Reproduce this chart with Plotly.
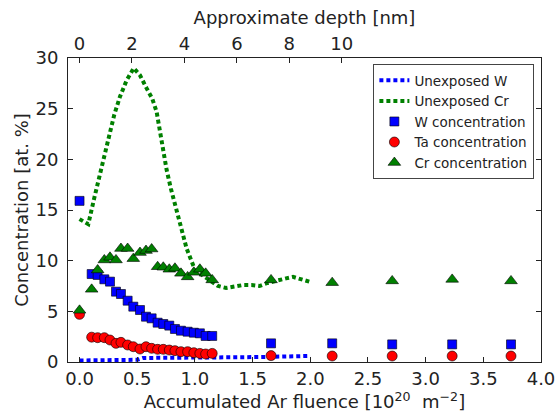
import plotly.graph_objects as go

# ---- data ----
unexp_cr_x = [0.0, 0.076, 0.128, 0.172, 0.215, 0.258, 0.301, 0.351, 0.408, 0.47, 0.524, 0.582, 0.63,
              0.668, 0.697, 0.726, 0.755, 0.792, 0.827, 0.87, 0.928, 1.0, 1.1, 1.2, 1.27, 1.35, 1.42,
              1.49, 1.56, 1.63, 1.72, 1.79, 1.85, 1.92, 2.0]
unexp_cr_y = [14.1, 13.6, 16.2, 18.3, 20.6, 22.6, 24.4, 26.2, 27.8, 29.0, 28.3, 27.0, 26.0,
              24.7, 22.6, 20.75, 18.95, 17.1, 15.5, 13.5, 11.2, 9.1, 8.3, 7.5, 7.3, 7.5, 7.6,
              7.6, 7.5, 7.8, 8.1, 8.25, 8.4, 8.15, 7.9]

unexp_w_x = [0.0, 0.25, 0.5, 0.55, 0.8, 1.0, 1.2, 1.4, 1.6, 1.8, 1.95, 2.0]
unexp_w_y = [0.15, 0.18, 0.22, 0.4, 0.4, 0.4, 0.45, 0.47, 0.5, 0.55, 0.6, 0.6]

w_x = [0.0, 0.105, 0.157, 0.215, 0.264, 0.316, 0.359, 0.417, 0.466, 0.524, 0.576, 0.625, 0.677,
       0.726, 0.778, 0.827, 0.879, 0.937, 0.991, 1.043, 1.093, 1.15, 1.66, 2.19, 2.71, 3.23, 3.74]
w_y = [15.9, 8.68, 8.59, 8.16, 7.93, 6.94, 6.71, 6.05, 5.46, 5.13, 4.47, 4.31, 3.88,
       3.75, 3.59, 3.26, 3.09, 2.99, 2.89, 2.83, 2.57, 2.57, 1.84, 1.84, 1.74, 1.74, 1.74]

ta_x = [0.0, 0.105, 0.157, 0.215, 0.264, 0.316, 0.359, 0.417, 0.466, 0.524, 0.576, 0.625, 0.677,
        0.726, 0.778, 0.827, 0.879, 0.937, 0.991, 1.043, 1.093, 1.15, 1.66, 2.19, 2.71, 3.23, 3.74]
ta_y = [4.7, 2.45, 2.4, 2.4, 2.17, 1.84, 1.94, 1.68, 1.51, 1.28, 1.51, 1.35, 1.25,
        1.25, 1.18, 1.12, 1.02, 1.02, 0.92, 0.85, 0.79, 0.85, 0.63, 0.59, 0.59, 0.59, 0.59]

cr_x = [0.0, 0.105, 0.157, 0.215, 0.264, 0.316, 0.359, 0.417, 0.466, 0.524, 0.576, 0.625, 0.677,
        0.726, 0.778, 0.827, 0.879, 0.937, 0.991, 1.043, 1.093, 1.15, 1.66, 2.19, 2.71, 3.23, 3.74]
cr_y = [5.1, 7.17, 9.08, 10.07, 10.33, 10.07, 11.2, 11.2, 10.2, 10.8, 11.0, 11.15, 9.4,
        9.35, 9.15, 9.25, 8.75, 8.4, 8.85, 9.15, 8.75, 8.1, 8.1, 7.83, 8.0, 8.15, 8.0]

x_ticks = [0.0, 0.5, 1.0, 1.5, 2.0, 2.5, 3.0, 3.5, 4.0]
y_ticks = [0, 5, 10, 15, 20, 25, 30]
depth_ticks = [0, 2, 4, 6, 8, 10]
nm_per_fluence = 4.4
x_range = [-0.1, 4.0]

FONT = "DejaVu Sans"
EDGE = dict(color="black", width=0.6)

fig = go.Figure()
fig.add_trace(go.Scatter(x=unexp_w_x, y=unexp_w_y, mode="lines", name="Unexposed W",
                         line=dict(color="#0000ff", width=4, dash="4px,3px")))
fig.add_trace(go.Scatter(x=unexp_cr_x, y=unexp_cr_y, mode="lines", name="Unexposed Cr",
                         line=dict(color="#008000", width=4, dash="4px,3px")))
fig.add_trace(go.Scatter(x=w_x, y=w_y, mode="markers", name="W concentration",
                         marker=dict(symbol="square", color="#0000ff", size=9, line=EDGE)))
fig.add_trace(go.Scatter(x=ta_x, y=ta_y, mode="markers", name="Ta concentration",
                         marker=dict(symbol="circle", color="#ff0000", size=10, line=EDGE)))
fig.add_trace(go.Scatter(x=cr_x, y=cr_y, mode="markers", name="Cr concentration",
                         marker=dict(symbol="triangle-up", color="#008000", size=11, line=EDGE)))
# invisible trace to activate top axis
fig.add_trace(go.Scatter(x=[x_range[0] * nm_per_fluence], y=[0], xaxis="x2", mode="markers",
                         marker=dict(opacity=0), showlegend=False, hoverinfo="skip"))

axis_common = dict(showgrid=False, zeroline=False, linecolor="#222", linewidth=1,
                   ticks="inside", ticklen=5, tickcolor="#222",
                   tickfont=dict(family=FONT, size=18, color="#222"))

fig.update_layout(
    width=558, height=418,
    margin=dict(l=68, r=17, t=58, b=56),
    paper_bgcolor="white", plot_bgcolor="white",
    font=dict(family=FONT, color="#222"),
    xaxis=dict(range=x_range, tickvals=x_ticks, tickformat=".1f", mirror=True, automargin="height",
               title=dict(text="Accumulated Ar fluence [10<sup>20</sup>  m<sup>−2</sup>]",
                          font=dict(family=FONT, size=18), standoff=5),
               **axis_common),
    xaxis2=dict(range=[x_range[0] * nm_per_fluence, x_range[1] * nm_per_fluence],
                tickvals=depth_ticks, overlaying="x", side="top", automargin="height",
                title=dict(text="Approximate depth [nm]", font=dict(family=FONT, size=18), standoff=3),
                **axis_common),
    yaxis=dict(range=[0, 30], tickvals=y_ticks, mirror="ticks", automargin="width",
               ticklabelstandoff=5,
               title=dict(text="Concentration [at. %]", font=dict(family=FONT, size=18), standoff=2),
               **axis_common),
    legend=dict(x=0.986, y=0.98, xanchor="right", yanchor="top",
                bgcolor="white", bordercolor="#444", borderwidth=1,
                font=dict(family=FONT, size=13.5, color="#222"),
                itemwidth=30, tracegroupgap=0),
    showlegend=True,
)

fig.write_html("out.html", config={"displayModeBar": False},
               post_script="document.body.style.margin='0';document.body.style.overflow='hidden';")
